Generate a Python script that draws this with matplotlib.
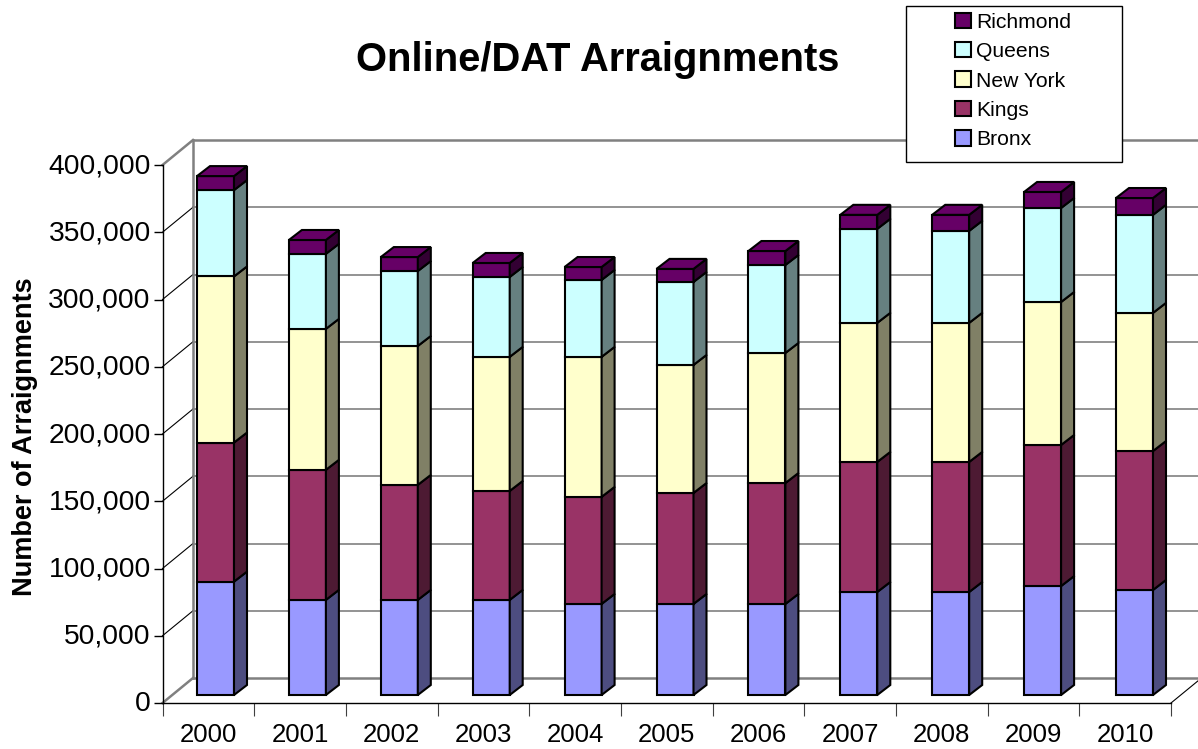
import matplotlib
matplotlib.use('Agg')
import matplotlib.pyplot as plt
from matplotlib.patches import Patch, Polygon, Rectangle
from matplotlib.transforms import Affine2D

plt.rcParams['font.family'] = ['Liberation Sans', 'DejaVu Sans']

years = ['2000', '2001', '2002', '2003', '2004', '2005', '2006', '2007', '2008', '2009', '2010']
bronx = [84300, 70700, 70700, 70700, 67700, 67700, 67700, 76600, 76600, 81000, 78100]
kings = [103400, 96700, 85500, 81000, 79600, 82500, 89900, 96700, 96700, 104900, 103300]
new_york = [123500, 104800, 103300, 99700, 104100, 95200, 96700, 103400, 103400, 106300, 102700]
queens = [64200, 55800, 55700, 59400, 57200, 61700, 65400, 69900, 68400, 69900, 72900]
richmond = [10400, 10300, 10400, 10400, 9600, 9700, 10400, 10400, 11900, 11900, 12500]

series_names = ['Bronx', 'Kings', 'New York', 'Queens', 'Richmond']
series_values = [bronx, kings, new_york, queens, richmond]
front_colors = ['#9999FF', '#993366', '#FFFFCC', '#CCFFFF', '#660066']
side_colors = ['#4D4D80', '#4D1A33', '#808066', '#668080', '#330033']

y_ticks = [0, 50000, 100000, 150000, 200000, 250000, 300000, 350000, 400000]

fig = plt.figure(figsize=(11.98, 7.49), dpi=100)
ax = fig.add_axes([162.5 / 1198, (749 - 703) / 749, 1008.5 / 1198, 538 / 749])
ax.set_xlim(0, 11)
ax.set_ylim(0, 400000)
ax.patch.set_visible(False)

# pixels -> data units, the 3d look is only offsets
px_x = 11 / 1008.5
px_y = 400000 / 538
wall_dx = 30.5 * px_x
wall_dy = 25 * px_y
bar_dx = 13 * px_x
bar_dy = 10 * px_y
bar_lift = 8 * px_y
bar_width = 37 * px_x

# back wall and side wall
for v in y_ticks:
    edge = v in (0, 400000)
    ax.plot([wall_dx, 11 + wall_dx], [v + wall_dy, v + wall_dy], color='#808080',
            lw=1.8 if edge else 1.2, clip_on=False, zorder=1)
    ax.plot([0, wall_dx], [v, v + wall_dy], color='#808080' if edge else 'black',
            lw=1.8 if edge else 0.8, clip_on=False, zorder=1)
ax.plot([wall_dx, wall_dx], [wall_dy, 400000 + wall_dy], color='#808080', lw=1.8, clip_on=False, zorder=1)
ax.plot([11, 11 + wall_dx], [0, wall_dy], color='black', lw=0.8, clip_on=False, zorder=1)

# stacked bars
bottoms = [0] * len(years)
x_pos = [(53.0 + 91.9 * i) * px_x for i in range(len(years))]
for s, values in enumerate(series_values):
    lifted = [b + bar_lift for b in bottoms]
    ax.bar(x_pos, values, bottom=lifted, width=bar_width, color=front_colors[s],
           edgecolor='black', linewidth=1.5, zorder=3)
    for i in range(len(years)):
        right = x_pos[i] + bar_width / 2
        low = lifted[i]
        high = lifted[i] + values[i]
        ax.add_patch(Polygon([(right, low), (right + bar_dx, low + bar_dy),
                              (right + bar_dx, high + bar_dy), (right, high)],
                             facecolor=side_colors[s], edgecolor='black', linewidth=1.5,
                             clip_on=False, zorder=3))
        if s == len(series_values) - 1:
            left = x_pos[i] - bar_width / 2
            ax.add_patch(Polygon([(left, high), (right, high),
                                  (right + bar_dx, high + bar_dy), (left + bar_dx, high + bar_dy)],
                                 facecolor=front_colors[s], edgecolor='black', linewidth=1.5,
                                 clip_on=False, zorder=3))
    bottoms = [b + v for b, v in zip(bottoms, values)]

# axes
ax.spines['top'].set_visible(False)
ax.spines['right'].set_visible(False)
ax.spines['left'].set_linewidth(1.0)
ax.spines['bottom'].set_linewidth(1.0)
ax.set_yticks(y_ticks)
ax.set_yticklabels([f'{v:,}' for v in y_ticks], fontsize=20.3, color='black')
ax.tick_params(axis='y', length=6.5, width=1.0, pad=2)
for lab in ax.get_yticklabels():
    lab.set_transform(lab.get_transform() + Affine2D().translate(0, 2))
ax.set_xticks(range(12))
ax.set_xticklabels([])
ax.tick_params(axis='x', which='major', length=9.4, width=0.8, color='#404040')
ax.set_xticks([i + 0.5 for i in range(11)], minor=True)
ax.set_xticklabels(years, minor=True, fontsize=18.5)
ax.tick_params(axis='x', which='minor', length=0, pad=14.5)

fig.text(597.5 / 1198, 1 - 60 / 749, 'Online/DAT Arraignments', fontsize=28.7, fontweight='bold',
         ha='center', va='center')
fig.text(25 / 1198, 1 - 437 / 749, 'Number of Arraignments', fontsize=19.5, fontweight='bold',
         rotation=90, ha='center', va='center')

# legend box, newest series on top
fig.add_artist(Rectangle((906 / 1198, 1 - 162 / 749), 216 / 1198, 156 / 749, transform=fig.transFigure,
                         facecolor='white', edgecolor='black', linewidth=1.0, zorder=5))
handles = [Patch(facecolor=c, edgecolor='black', linewidth=1.5, label=n)
           for n, c in zip(series_names[::-1], front_colors[::-1])]
leg = fig.legend(handles=handles, loc='center left', bbox_to_anchor=(955 / 1198, 1 - 81 / 749),
                 frameon=False, fontsize=15.2, handlelength=0.75, handleheight=0.75,
                 handletextpad=0.26, labelspacing=0.49, borderpad=0, borderaxespad=0)
leg.set_zorder(6)

plt.savefig('out.png', dpi=100)
